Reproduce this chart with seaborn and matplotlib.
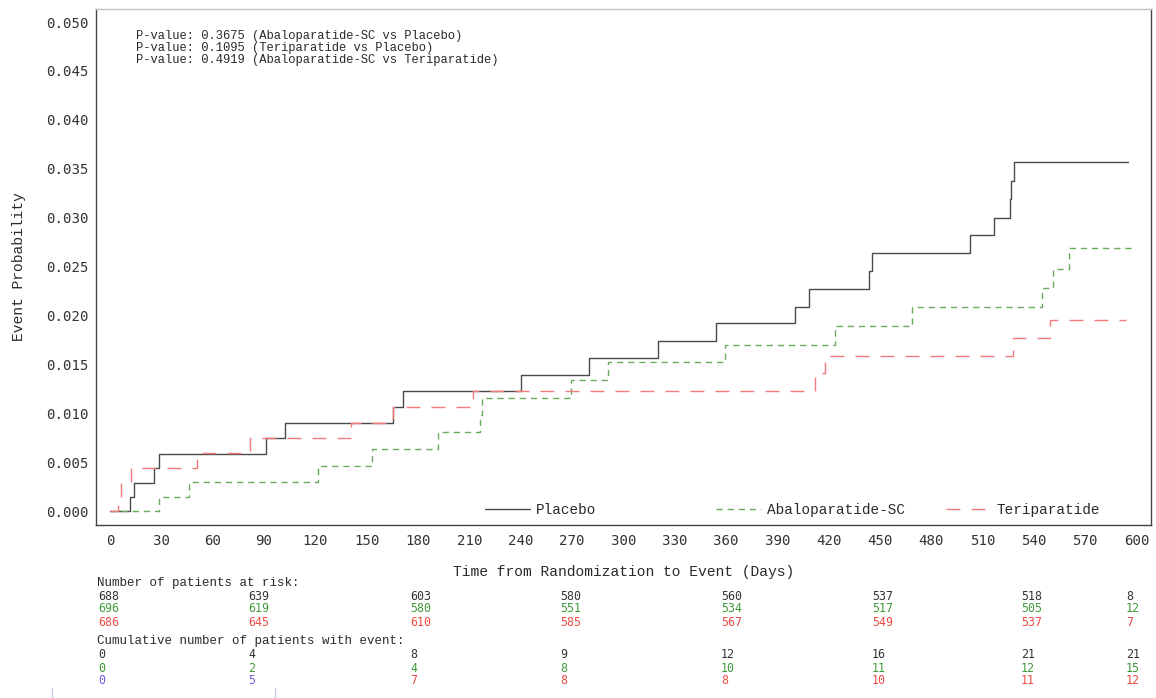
import numpy as np
import pandas as pd
import seaborn as sns
from matplotlib import pyplot as plt
from matplotlib.lines import Line2D

sns.set_theme(style="white")
plt.rcParams["font.family"] = ["Liberation Mono", "DejaVu Sans Mono"]

# step curves (day of step, cumulative event probability)
placebo_days = [0, 11.9, 13.8, 25.9, 28.8, 91.2, 102.5, 165.2, 171, 240.3, 280.2, 320.5, 354.2,
                400.3, 408.7, 443.6, 445.6, 502.8, 516.4, 525.8, 526.4, 528.5, 595.2]
placebo_prob = [0, 0.00146, 0.00291, 0.00437, 0.00586, 0.00743, 0.00900, 0.01067, 0.01227, 0.01394,
                0.01568, 0.01742, 0.01919, 0.02090, 0.02270, 0.02450, 0.02635, 0.02820, 0.03000,
                0.03190, 0.03374, 0.03565, 0.03565]

abalo_days = [0, 28.8, 46, 121.8, 153, 191.9, 216, 217.5, 269.2, 291.3, 359.4, 423.5, 468.5,
              544.5, 551.3, 560.7, 599]
abalo_prob = [0, 0.00146, 0.00293, 0.00463, 0.00630, 0.00805, 0.00980, 0.01159, 0.01336, 0.01520,
              0.01700, 0.01888, 0.02083, 0.02277, 0.02478, 0.02693, 0.02693]

teri_days = [0, 4.5, 6.6, 12, 50.8, 81.8, 140.8, 165.2, 212, 412, 418, 527.5, 549.4, 594]
teri_prob = [0, 0.00140, 0.00286, 0.00436, 0.00590, 0.00743, 0.00900, 0.01067, 0.01230, 0.01410,
             0.01590, 0.01772, 0.01953, 0.01953]

# risk table
at_risk_placebo = [688, 639, 603, 580, 560, 537, 518, 8]
at_risk_abalo = [696, 619, 580, 551, 534, 517, 505, 12]
at_risk_teri = [686, 645, 610, 585, 567, 549, 537, 7]
events_placebo = [0, 4, 8, 9, 12, 16, 21, 21]
events_abalo = [0, 2, 4, 8, 10, 11, 12, 15]
events_teri = [0, 5, 7, 8, 8, 10, 11, 12]

p_values = ["P-value: 0.3675 (Abaloparatide-SC vs Placebo)",
            "P-value: 0.1095 (Teriparatide vs Placebo)",
            "P-value: 0.4919 (Abaloparatide-SC vs Teriparatide)"]

c_black, c_green, c_red = "#4a4a4a", "#6aab5e", "#f27a7a"
t_black, t_green, t_red = "#333333", "#3f9a3a", "#ee4a44"
txt = "#2a2a2a"

W, H = 1156, 698
fig = plt.figure(figsize=(W / 100, H / 100), dpi=100)
ax = fig.add_axes([96 / W, 1 - 525 / H, (1151 - 96) / W, (525 - 9) / H])

series = [
    ("Placebo", placebo_days, placebo_prob, c_black, "-"),
    ("Abaloparatide-SC", abalo_days, abalo_prob, c_green, (0, (4.5, 3.5))),
    ("Teriparatide", teri_days, teri_prob, c_red, (0, (10, 8))),
]
for name, d, p, col, ls in series:
    df = pd.DataFrame({"day": d, "prob": p})
    sns.lineplot(data=df, x="day", y="prob", ax=ax, drawstyle="steps-post", estimator=None,
                 sort=False, color=col, linestyle=ls, linewidth=1.0, label=name)

ax.set_xlim(-8.2, 608.4)
ax.set_ylim(-0.00143, 0.05133)
ax.set_xticks(np.arange(0, 601, 30))
ax.set_yticks(np.arange(0, 0.0501, 0.005))
ax.set_yticklabels([f"{v:.3f}" for v in np.arange(0, 0.0501, 0.005)])
ax.tick_params(axis="both", direction="inout", length=5, width=0.8, colors="#444444",
               labelsize=10.2, pad=3, labelcolor="#333333")
for lab in ax.get_xticklabels() + ax.get_yticklabels():
    lab.set_family("DejaVu Sans Mono")
ax.tick_params(axis="x", pad=4)
for side in ["left", "bottom", "right"]:
    ax.spines[side].set_color("#444444")
    ax.spines[side].set_linewidth(1.0)
ax.spines["top"].set_color("#c4c4c4")
ax.spines["top"].set_linewidth(1.0)

ax.set_xlabel("Time from Randomization to Event (Days)", fontsize=10.5, color=txt)
ax.set_ylabel("Event Probability", fontsize=10.5, color=txt)
ax.xaxis.set_label_coords(0.5, -0.077)
ax.yaxis.set_label_coords(-0.0665, 0.5)

for i, line_txt in enumerate(p_values):
    ax.text(136 / W, 1 - (36 + 12 * i) / H, line_txt, transform=fig.transFigure, fontsize=8.7,
            color=txt, va="center", ha="left")

# separate legend entries, spread along the bottom
ax.get_legend().remove()
lines = ax.get_lines()
anchors = [0.3687, 0.5877, 0.8057]
legends = []
for line, xa in zip(lines, anchors):
    leg = ax.legend([line], [line.get_label()], loc="center left", bbox_to_anchor=(xa, 0.029),
                    frameon=False, fontsize=10.4, handlelength=3.1, handletextpad=0.4,
                    borderpad=0, borderaxespad=0)
    for t in leg.get_texts():
        t.set_color(txt)
    legends.append(leg)
for leg in legends[:-1]:
    ax.add_artist(leg)

# numbers at risk / cumulative events
col_x = [98, 248, 410, 560, 721, 872, 1021, 1126]
fig.text(97 / W, 1 - 583 / H, "Number of patients at risk:", fontsize=9, color=txt, va="center")
fig.text(97 / W, 1 - 641 / H, "Cumulative number of patients with event:", fontsize=9,
         color=txt, va="center")
rows = [
    (596, at_risk_placebo, t_black), (609, at_risk_abalo, t_green), (622, at_risk_teri, t_red),
    (655, events_placebo, t_black), (668, events_abalo, t_green), (681, events_teri, t_red),
]
for y, vals, col in rows:
    for j, (x, v) in enumerate(zip(col_x, vals)):
        c = col
        if vals is events_teri and j < 2:
            c = "#6c5fe0"
        fig.text(x / W, 1 - y / H, str(v), fontsize=8.4, color=c, va="center", ha="left",
                 family="DejaVu Sans Mono")

for xv in [52, 275]:
    fig.add_artist(Line2D([xv / W, xv / W], [0, 1 - 688 / H], color="#c9d0e2", linewidth=1.0,
                          transform=fig.transFigure))

fig.savefig("out.png", dpi=100, facecolor="white")
